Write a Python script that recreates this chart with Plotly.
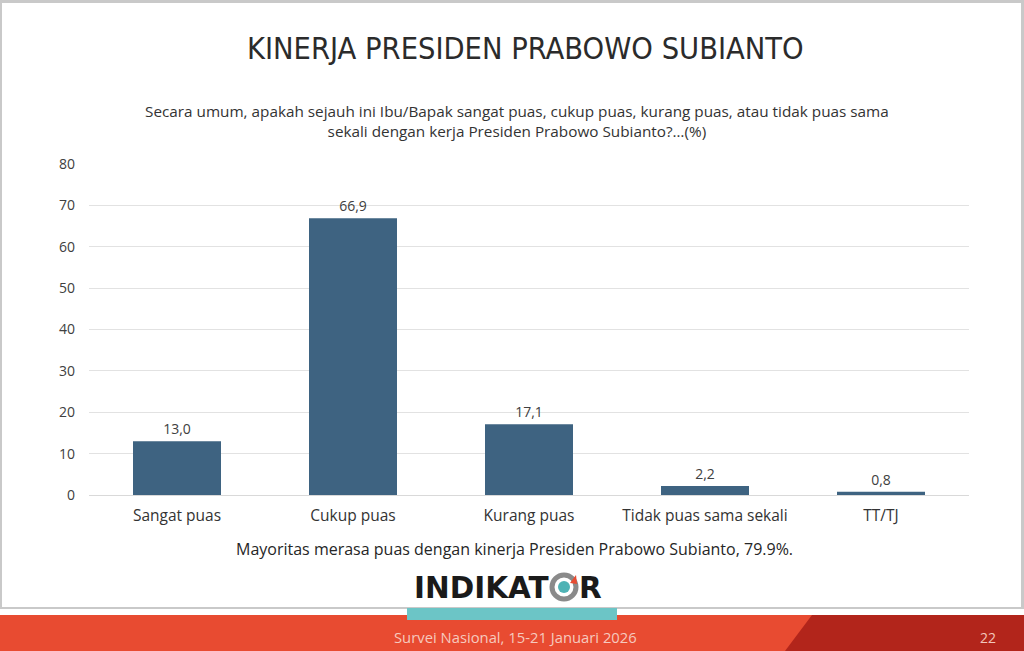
import plotly.graph_objects as go

categories = ["Sangat puas", "Cukup puas", "Kurang puas", "Tidak puas sama sekali", "TT/TJ"]
values = [13.0, 66.9, 17.1, 2.2, 0.8]
value_labels = ["13,0", "66,9", "17,1", "2,2", "0,8"]
y_ticks = [0, 10, 20, 30, 40, 50, 60, 70, 80]

title_text = "KINERJA PRESIDEN PRABOWO SUBIANTO"
subtitle_lines = [
    "Secara umum, apakah sejauh ini Ibu/Bapak sangat puas, cukup puas, kurang puas, atau tidak puas sama",
    "sekali dengan kerja Presiden Prabowo Subianto?…(%)",
]
note_text = "Mayoritas merasa puas dengan kinerja Presiden Prabowo Subianto, 79.9%."
footer_text = "Survei Nasional, 15-21 Januari 2026"
page_no = "22"

W, H = 1024, 651
L, R, T, B = 89, 969, 164, 495
BAR = "#3E6381"
FONT = "Open Sans"

fig = go.Figure()
fig.add_trace(go.Bar(
    x=categories, y=values, text=value_labels, textposition="outside",
    textfont=dict(family=FONT, size=14, color="#404040"),
    marker=dict(color=BAR, line=dict(width=0)),
    width=0.5, cliponaxis=False, hoverinfo="skip",
))

def px(x):
    return (x - L) / (R - L)

def py(y):
    return (B - y) / (B - T)

shapes = []
# page frame
shapes.append(dict(type="rect", xref="paper", yref="paper", x0=px(0), x1=px(W), y0=py(H), y1=py(0),
                   fillcolor="#c9c9c9", line=dict(width=0), layer="below"))
shapes.append(dict(type="rect", xref="paper", yref="paper", x0=px(2), x1=px(1021), y0=py(607), y1=py(3),
                   fillcolor="white", line=dict(width=0), layer="below"))
shapes.append(dict(type="rect", xref="paper", yref="paper", x0=px(0), x1=px(W), y0=py(615), y1=py(609),
                   fillcolor="white", line=dict(width=0), layer="below"))
# footer band
shapes.append(dict(type="rect", xref="paper", yref="paper", x0=px(0), x1=px(W), y0=py(H), y1=py(615),
                   fillcolor="#E84B31", line=dict(width=0), layer="below"))
shapes.append(dict(type="path", xref="paper", yref="paper",
                   path=f"M {px(812)} {py(615)} L {px(W)} {py(615)} L {px(W)} {py(H)} L {px(785)} {py(H)} Z",
                   fillcolor="#B2251B", line=dict(width=0), layer="below"))
# teal bar under logo
shapes.append(dict(type="rect", xref="paper", yref="paper", x0=px(407), x1=px(617), y0=py(620), y1=py(608),
                   fillcolor="#6CC5C6", line=dict(width=0), layer="above"))
# logo "O" ring
cx, cy, r = 564, 587, 12
shapes.append(dict(type="circle", xref="paper", yref="paper", x0=px(cx - r), x1=px(cx + r), y0=py(cy + r), y1=py(cy - r),
                   fillcolor="white", line=dict(color="#8a8a8a", width=5), layer="above"))
r2 = 6
shapes.append(dict(type="circle", xref="paper", yref="paper", x0=px(cx - r2), x1=px(cx + r2), y0=py(cy + r2), y1=py(cy - r2),
                   fillcolor="#4FB3B5", line=dict(width=0), layer="above"))
shapes.append(dict(type="path", xref="paper", yref="paper",
                   path=f"M {px(570)} {py(583)} L {px(576)} {py(575)} L {px(577)} {py(584)} Z",
                   fillcolor="#E84B31", line=dict(width=0), layer="above"))

annotations = []
annotations.append(dict(text=title_text, x=px(525), y=py(48), xref="paper", yref="paper", showarrow=False,
                        xanchor="center", yanchor="middle",
                        font=dict(family="DejaVu Sans Condensed, Roboto", size=30.5, color="#2b2b2b")))
annotations.append(dict(text=subtitle_lines[0] + "<br>" + subtitle_lines[1], x=px(517), y=py(121),
                        xref="paper", yref="paper", showarrow=False, xanchor="center", yanchor="middle",
                        align="center", font=dict(family=FONT, size=15.3, color="#333333")))
annotations.append(dict(text=note_text, x=px(514), y=py(549), xref="paper", yref="paper", showarrow=False,
                        xanchor="center", yanchor="middle", font=dict(family=FONT, size=16, color="#262626")))
annotations.append(dict(text="<b>INDIKAT</b>", x=px(551), y=py(588), xref="paper", yref="paper", showarrow=False,
                        xanchor="right", yanchor="middle", font=dict(family="DejaVu Sans", size=29.5, color="#1a1a1a")))
annotations.append(dict(text="<b>R</b>", x=px(577), y=py(588), xref="paper", yref="paper", showarrow=False,
                        xanchor="left", yanchor="middle", font=dict(family="DejaVu Sans", size=29.5, color="#1a1a1a")))
annotations.append(dict(text=footer_text, x=px(515), y=py(637), xref="paper", yref="paper", showarrow=False,
                        xanchor="center", yanchor="middle", font=dict(family=FONT, size=14.8, color="#F6C9BE")))
annotations.append(dict(text=page_no, x=px(988), y=py(637), xref="paper", yref="paper", showarrow=False,
                        xanchor="center", yanchor="middle", font=dict(family=FONT, size=14, color="#F2C6BC")))

fig.update_layout(
    width=W, height=H,
    margin=dict(l=L, r=W - R, t=T, b=H - B, pad=0),
    paper_bgcolor="white", plot_bgcolor="rgba(0,0,0,0)",
    showlegend=False, bargap=0.5,
    shapes=shapes, annotations=annotations,
    font=dict(family=FONT, color="#404040"),
)
fig.update_xaxes(showgrid=False, showline=False, ticks="", tickfont=dict(family=FONT, size=15.5, color="#333333"),
                 ticklabelstandoff=9, fixedrange=True)
fig.update_yaxes(range=[0, 80], tickvals=y_ticks, showgrid=True, gridcolor="#e2e2e2", gridwidth=1,
                 zeroline=True, zerolinecolor="#d9d9d9", zerolinewidth=1, showline=False, ticks="",
                 tickfont=dict(family=FONT, size=14, color="#404040"), ticklabelstandoff=13, fixedrange=True)

fig.write_html("out.html", config=dict(displayModeBar=False),
               post_script="document.body.style.margin='0';document.body.style.overflow='hidden';")
